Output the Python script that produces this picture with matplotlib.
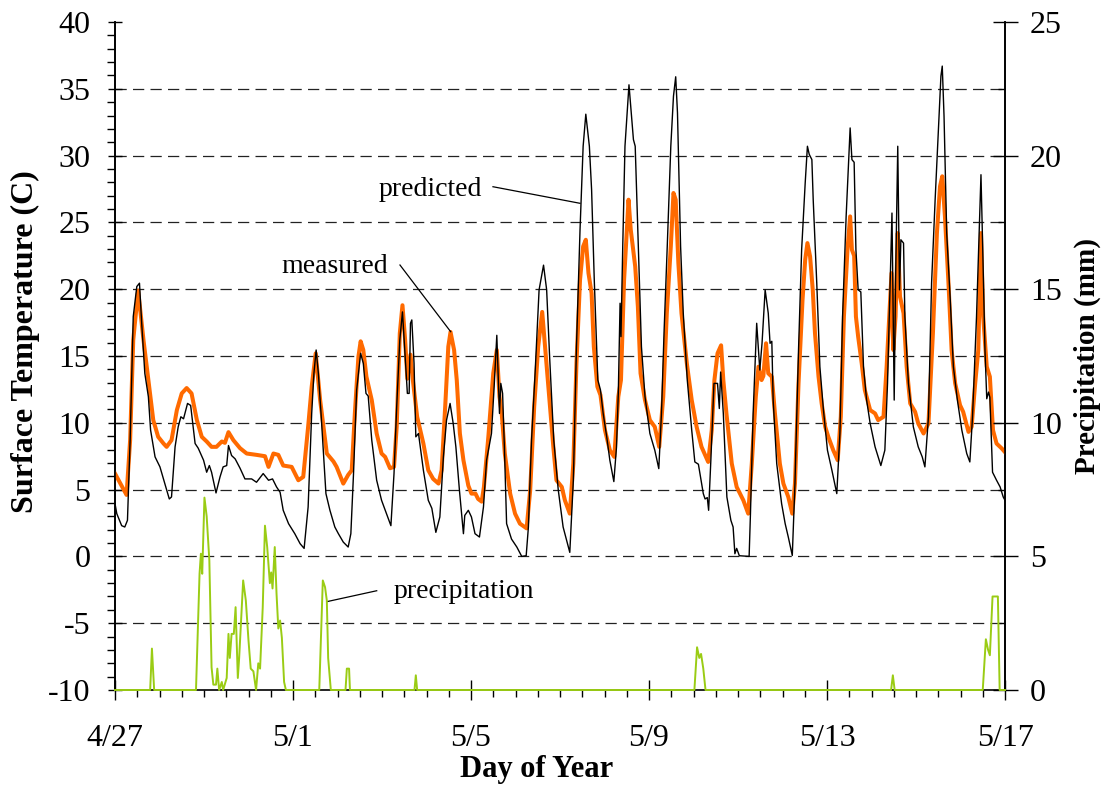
import matplotlib
matplotlib.use("Agg")
import matplotlib.pyplot as plt
from matplotlib.ticker import MultipleLocator, FixedLocator

plt.rcParams['font.family'] = ['Liberation Serif', 'DejaVu Serif']
plt.rcParams['axes.unicode_minus'] = False

# ---- data: time in days since 4/27 00:00 ----
measured_t = [0.00, 0.26, 0.34, 0.41, 0.52, 0.64, 0.75, 0.86, 0.97, 1.09, 1.16, 1.27, 1.39, 1.50,
              1.61, 1.72, 1.84, 1.95, 2.06, 2.17, 2.28, 2.40, 2.47, 2.55, 2.66, 2.81, 2.96, 3.18,
              3.37, 3.45, 3.56, 3.67, 3.78, 3.97, 4.12, 4.23, 4.34, 4.42, 4.51, 4.61, 4.76, 4.91,
              4.98, 5.13, 5.24, 5.32, 5.39, 5.47, 5.52, 5.58, 5.65, 5.77, 5.88, 5.99, 6.07, 6.18,
              6.27, 6.33, 6.40, 6.46, 6.52, 6.57, 6.64, 6.70, 6.79, 6.93, 7.04, 7.15, 7.27, 7.34,
              7.42, 7.49, 7.54, 7.62, 7.68, 7.75, 7.83, 7.94, 8.01, 8.10, 8.16, 8.24, 8.29, 8.39,
              8.50, 8.58, 8.64, 8.69, 8.76, 8.88, 8.99, 9.10, 9.25, 9.33, 9.42, 9.51, 9.60, 9.69,
              9.77, 9.85, 9.92, 10.04, 10.11, 10.22, 10.30, 10.37, 10.45, 10.52, 10.58, 10.64,
              10.71, 10.76, 10.84, 10.91, 11.01, 11.12, 11.22, 11.31, 11.37, 11.44, 11.54, 11.59,
              11.69, 11.75, 11.81, 11.91, 12.02, 12.13, 12.23, 12.32, 12.40, 12.49, 12.55, 12.60,
              12.66, 12.73, 12.85, 12.96, 13.07, 13.18, 13.33, 13.41, 13.47, 13.54, 13.62, 13.67,
              13.74, 13.86, 13.97, 14.12, 14.23, 14.31, 14.40, 14.46, 14.53, 14.57, 14.63, 14.68,
              14.76, 14.83, 14.94, 15.02, 15.13, 15.22, 15.28, 15.36, 15.45, 15.51, 15.56, 15.62,
              15.68, 15.73, 15.81, 15.88, 15.96, 16.03, 16.14, 16.24, 16.31, 16.38, 16.46, 16.52,
              16.56, 16.61, 16.65, 16.70, 16.78, 16.85, 16.97, 17.08, 17.15, 17.27, 17.34, 17.40,
              17.45, 17.49, 17.54, 17.59, 17.64, 17.72, 17.79, 17.87, 17.98, 18.05, 18.17, 18.28,
              18.38, 18.47, 18.54, 18.59, 18.65, 18.73, 18.80, 18.88, 18.99, 19.06, 19.18, 19.25,
              19.33, 19.40, 19.46, 19.51, 19.59, 19.66, 19.73, 19.81, 19.93, 20.00]
measured_c = [6.2, 4.6, 8.7, 16.2, 19.9, 16.2, 13.2, 10.2, 8.95, 8.45, 8.2, 8.7, 10.95, 12.2,
              12.6, 12.2, 10.2, 8.95, 8.6, 8.2, 8.2, 8.6, 8.5, 9.3, 8.7, 8.1, 7.7, 7.6,
              7.5, 6.7, 7.7, 7.6, 6.8, 6.7, 5.7, 5.95, 9.7, 12.7, 15.2, 11.7, 7.7, 7.1,
              6.7, 5.45, 6.1, 6.45, 10.7, 14.95, 16.1, 15.45, 13.45, 11.7, 9.2, 7.7, 7.45, 6.6,
              6.7, 9.7, 16.7, 18.8, 16.2, 13.3, 15.1, 13.0, 10.45, 8.45, 6.45, 5.8, 5.45, 6.45,
              11.2, 15.7, 16.8, 15.45, 13.2, 9.2, 7.2, 5.3, 4.7, 4.7, 4.3, 4.1, 5.2, 8.95,
              13.7, 15.45, 11.95, 10.7, 7.7, 4.7, 3.2, 2.45, 2.1, 4.95, 11.2, 15.7, 18.3, 14.7,
              11.45, 8.2, 5.7, 5.2, 4.2, 3.2, 6.95, 14.45, 20.7, 23.2, 23.7, 21.2,
              19.7, 15.7, 12.7, 12.07, 9.45, 7.95, 7.45, 11.95, 13.2, 20.7, 26.7, 24.45,
              21.7, 18.7, 13.7, 11.7, 10.2, 9.7, 8.2, 11.95, 18.2, 23.2, 27.2, 26.7,
              21.95, 18.2, 14.45, 11.7, 9.7, 8.2, 7.07, 9.45, 13.2, 15.2, 15.8, 13.2,
              10.7, 6.95, 5.2, 4.2, 3.2, 6.95, 11.95, 14.2, 13.2, 13.5, 15.95, 13.7,
              13.45, 10.7, 6.95, 5.45, 4.45, 3.2, 5.45, 12.95, 19.2, 22.2, 23.45, 22.45,
              19.95, 16.7, 13.45, 11.45, 9.7, 8.95, 7.95, 7.2, 10.45, 17.95, 22.95, 25.45,
              22.95, 22.5, 17.95, 16.45, 14.45, 12.45, 10.95, 10.7, 10.2, 10.45, 14.2, 17.95,
              21.2, 15.45, 17.95, 24.2, 19.45, 18.2, 14.2, 11.45, 10.82, 9.95, 9.2, 9.95,
              16.7, 24.2, 27.7, 28.45, 25.45, 20.45, 15.45, 12.95, 11.32, 10.82, 9.32, 9.7,
              12.95, 15.45, 24.2, 17.95, 14.2, 13.45, 9.45, 8.45, 8.07, 7.8]

predicted_t = [0.00, 0.04, 0.15, 0.22, 0.28, 0.34, 0.41, 0.49, 0.55, 0.60, 0.67, 0.75, 0.80, 0.90,
               1.01, 1.12, 1.22, 1.27, 1.35, 1.42, 1.48, 1.54, 1.63, 1.70, 1.80, 1.87, 1.99, 2.06,
               2.12, 2.17, 2.27, 2.36, 2.43, 2.51, 2.55, 2.62, 2.70, 2.81, 2.92, 3.07, 3.18, 3.33,
               3.45, 3.54, 3.63, 3.71, 3.78, 3.90, 4.04, 4.16, 4.25, 4.34, 4.42, 4.47, 4.52, 4.57,
               4.63, 4.74, 4.83, 4.94, 5.02, 5.13, 5.24, 5.30, 5.36, 5.43, 5.52, 5.58, 5.64, 5.69,
               5.77, 5.88, 5.99, 6.10, 6.20, 6.27, 6.33, 6.40, 6.46, 6.52, 6.57, 6.61, 6.64, 6.67,
               6.72, 6.76, 6.82, 6.93, 7.04, 7.12, 7.21, 7.30, 7.38, 7.45, 7.53, 7.60, 7.66, 7.74,
               7.83, 7.86, 7.94, 8.01, 8.09, 8.19, 8.28, 8.35, 8.46, 8.52, 8.58, 8.61, 8.64, 8.67,
               8.71, 8.75, 8.80, 8.91, 9.03, 9.14, 9.24, 9.29, 9.36, 9.44, 9.53, 9.63, 9.70, 9.77,
               9.86, 9.96, 10.07, 10.15, 10.22, 10.30, 10.37, 10.45, 10.52, 10.58, 10.66, 10.71,
               10.77, 10.85, 10.91, 10.97, 11.05, 11.12, 11.21, 11.27, 11.31, 11.35, 11.37, 11.41,
               11.46, 11.55, 11.60, 11.65, 11.69, 11.76, 11.83, 11.91, 12.02, 12.13, 12.22, 12.28,
               12.34, 12.41, 12.49, 12.55, 12.60, 12.64, 12.71, 12.77, 12.86, 12.96, 13.03, 13.11,
               13.22, 13.26, 13.31, 13.34, 13.39, 13.46, 13.54, 13.58, 13.61, 13.67, 13.75, 13.84,
               13.89, 13.93, 13.97, 14.03, 14.25, 14.28, 14.34, 14.42, 14.49, 14.54, 14.61, 14.68,
               14.72, 14.76, 14.79, 14.87, 14.98, 15.06, 15.13, 15.22, 15.28, 15.36, 15.43, 15.51,
               15.56, 15.60, 15.66, 15.69, 15.77, 15.84, 15.92, 16.01, 16.11, 16.22, 16.29, 16.35,
               16.43, 16.48, 16.52, 16.56, 16.61, 16.65, 16.70, 16.76, 16.82, 16.89, 16.97, 17.08,
               17.21, 17.30, 17.36, 17.42, 17.46, 17.51, 17.54, 17.59, 17.63, 17.66, 17.72, 17.75,
               17.83, 17.94, 18.05, 18.14, 18.20, 18.28, 18.35, 18.43, 18.50, 18.56, 18.59, 18.63,
               18.69, 18.77, 18.84, 18.93, 19.03, 19.14, 19.21, 19.27, 19.36, 19.42, 19.46, 19.50,
               19.55, 19.59, 19.63, 19.66, 19.72, 19.81, 19.89, 19.96, 20.00]
predicted_c = [3.95, 3.2, 2.3, 2.2, 2.7, 8.7, 17.95, 20.2, 20.45, 17.45, 13.7, 11.95, 9.45, 7.45,
               6.7, 5.45, 4.3, 4.45, 8.2, 9.7, 10.45, 10.3, 11.45, 11.3, 8.45, 8.1, 7.2, 6.3,
               6.8, 6.3, 4.75, 5.95, 6.7, 6.8, 8.3, 7.55, 7.3, 6.6, 5.8, 5.8, 5.55, 6.2,
               5.7, 5.8, 5.2, 4.8, 3.45, 2.45, 1.7, 0.95, 0.6, 3.7, 10.7, 13.7, 15.45, 13.7,
               10.7, 4.7, 3.45, 2.2, 1.7, 1.07, 0.7, 1.7, 6.2, 12.45, 15.2, 14.45, 12.2, 12.0,
               8.7, 5.7, 4.2, 3.2, 2.3, 6.2, 11.2, 16.2, 18.3, 14.95, 12.2, 12.2, 17.45, 17.7,
               14.45, 8.95, 9.2, 6.45, 4.2, 3.6, 1.8, 2.95, 7.45, 10.2, 11.45, 9.95, 8.2, 4.95,
               1.7, 3.07, 3.45, 2.95, 1.7, 1.45, 3.7, 7.2, 9.2, 12.7, 16.55, 13.7, 10.7, 12.95,
               12.2, 8.2, 2.45, 1.3, 0.7, 0.0, 0.05, 2.2, 8.7, 13.7, 19.95, 21.8, 19.95, 14.7,
               8.7, 5.0, 2.2, 1.2, 0.3, 5.7, 15.7, 24.45, 30.7, 33.1, 30.7, 27.45,
               20.7, 13.2, 12.45, 10.7, 8.95, 7.2, 5.6, 8.2, 12.2, 18.95, 16.45, 23.2,
               30.7, 35.3, 33.2, 31.2, 30.7, 23.2, 15.7, 11.95, 9.2, 7.95, 6.57, 10.7,
               16.95, 23.2, 30.7, 34.45, 35.9, 33.2, 23.2, 18.2, 13.2, 9.45, 7.07, 6.9,
               4.7, 4.3, 4.4, 3.45, 7.2, 12.95, 12.95, 11.07, 13.8, 10.7, 4.45, 2.7,
               2.2, 0.2, 0.6, 0.05, 0.0, 3.2, 10.7, 17.45, 13.95, 15.95, 19.95, 18.2,
               15.95, 16.1, 11.7, 6.95, 3.95, 2.45, 1.45, 0.07, 5.45, 15.45, 22.95, 27.95,
               30.7, 30.1, 29.7, 26.7, 20.45, 14.2, 10.95, 7.95, 6.45, 4.7, 9.2, 17.95,
               25.45, 29.2, 32.07, 29.7, 29.5, 22.95, 19.95, 19.8, 14.2, 11.7, 9.95, 8.2,
               6.8, 7.95, 12.95, 20.45, 25.7, 11.7, 20.45, 30.7, 19.95, 23.7, 23.45, 17.95,
               12.95, 9.7, 8.2, 7.45, 6.7, 10.45, 20.45, 26.7, 31.7, 35.95, 36.7, 32.95,
               24.2, 19.2, 14.2, 11.7, 9.45, 7.7, 7.07, 10.45, 17.95, 24.2, 28.57, 22.95,
               15.45, 11.8, 12.3, 11.9, 6.3, 5.7, 5.2, 4.45, 4.2]

precip_t = [0.00, 0.79, 0.83, 0.88, 1.82, 1.90, 1.93, 1.96, 2.01, 2.06, 2.12, 2.17, 2.21, 2.27,
            2.30, 2.34, 2.40, 2.43, 2.51, 2.55, 2.58, 2.62, 2.67, 2.71, 2.76, 2.79, 2.88, 2.94,
            3.00, 3.05, 3.11, 3.17, 3.22, 3.26, 3.32, 3.37, 3.42, 3.48, 3.51, 3.54, 3.59, 3.63,
            3.67, 3.71, 3.75, 3.80, 3.84, 4.59, 4.67, 4.72, 4.76, 4.79, 4.85, 5.18, 5.21, 5.26,
            5.28, 6.73, 6.76, 6.79, 13.02, 13.08, 13.13, 13.17, 13.22, 13.27, 17.44, 17.48, 17.52,
            19.50, 19.57, 19.62, 19.66, 19.72, 19.84, 19.88, 20.00]
precip_mm = [0.0, 0.0, 1.55, 0.0, 0.0, 4.35, 5.1, 4.35, 7.2, 6.5, 4.85, 0.85, 0.2, 0.2,
             0.8, 0.0, 0.3, 0.0, 0.45, 2.1, 1.2, 2.1, 2.1, 3.1, 0.45, 1.2, 4.1, 3.35,
             1.85, 0.8, 0.7, 0.0, 1.0, 0.8, 3.1, 6.15, 5.35, 4.0, 4.4, 3.8, 5.35, 3.6,
             2.3, 2.6, 1.95, 0.3, 0.0, 0.0, 4.1, 3.85, 3.35, 1.2, 0.0, 0.0, 0.8, 0.8,
             0.0, 0.0, 0.55, 0.0, 0.0, 1.6, 1.2, 1.35, 0.8, 0.0, 0.0, 0.55, 0.0,
             0.0, 1.9, 1.5, 1.3, 3.5, 3.5, 0.0, 0.0]

date_ticks = [0, 4, 8, 12, 16, 20]
date_labels = ['4/27', '5/1', '5/5', '5/9', '5/13', '5/17']

ORANGE = '#ff6a00'
GREEN = '#9acc14'

fig = plt.figure(figsize=(11.07, 7.87), dpi=100)
ax = fig.add_axes([115 / 1107, 1 - 690 / 787, 890 / 1107, 668 / 787])
ax2 = ax.twinx()

# horizontal dashed reference lines
for v in range(-5, 40, 5):
    ax.axhline(v, color='#222222', lw=0.9, dashes=(9, 5), zorder=1)

ax.plot(measured_t, measured_c, color=ORANGE, lw=2.9, zorder=3, solid_joinstyle='round')
ax.plot(predicted_t, predicted_c, color='black', lw=1.0, zorder=4)
ax2.plot(precip_t, precip_mm, color=GREEN, lw=1.4, zorder=6, clip_on=False)

ax.set_xlim(0, 20)
ax.set_ylim(-10, 40)
ax2.set_ylim(0, 25)

ax.xaxis.set_major_locator(FixedLocator(date_ticks))
ax.set_xticklabels(date_labels)
ax.xaxis.set_minor_locator(MultipleLocator(0.5))
ax.yaxis.set_major_locator(MultipleLocator(5))
ax.yaxis.set_minor_locator(MultipleLocator(1))
ax2.yaxis.set_major_locator(MultipleLocator(5))
ax2.yaxis.set_minor_locator(MultipleLocator(2.5))

ax.tick_params(axis='x', which='major', direction='inout', length=14.4, width=1.0,
               pad=17.5, labelsize=23)
ax.tick_params(axis='x', which='minor', direction='out', length=5, width=1.0)
ax.tick_params(axis='y', which='major', direction='inout', length=9.4, width=1.0,
               pad=13, labelsize=23)
ax.tick_params(axis='y', which='minor', direction='out', length=5.8, width=1.0)
ax2.tick_params(axis='y', which='major', direction='inout', length=18, width=1.0,
                pad=9, labelsize=23)
ax2.tick_params(axis='y', which='minor', direction='in', length=5, width=1.0)

for a in (ax, ax2):
    a.spines['top'].set_visible(False)
    for s in ('left', 'right', 'bottom'):
        a.spines[s].set_linewidth(1.2)
ax2.spines['bottom'].set_visible(False)

ax.set_xlabel('Day of Year', fontsize=22, fontweight='bold', va='center')
ax.xaxis.set_label_coords((536.5 - 115) / 890, -(770 - 690) / 668)
ax.set_ylabel('Surface Temperature (C)', fontsize=23, fontweight='bold', va='center')
ax.yaxis.set_label_coords((25 - 115) / 890, (690 - 342) / 668)
ax2.set_ylabel('Precipitation (mm)', fontsize=21, fontweight='bold', va='center',
               rotation=90)
ax2.yaxis.set_label_coords((1087 - 115) / 890, 0.5)

# series labels with leader lines
ax.text(5.918, 26.98, 'predicted', fontsize=20, ha='left', va='baseline')
ax.plot([8.494, 10.449], [27.67, 26.43], color='black', lw=0.9, zorder=5)
ax.text(3.746, 21.21, 'measured', fontsize=20, ha='left', va='baseline')
ax.plot([6.404, 7.543], [21.81, 16.82], color='black', lw=0.9, zorder=5)
ax.text(6.254, -3.14, 'precipitation', fontsize=20, ha='left', va='baseline')
ax.plot([5.881, 4.757], [-2.57, -3.39], color='black', lw=0.9, zorder=5)

fig.savefig('out.png', dpi=100)
